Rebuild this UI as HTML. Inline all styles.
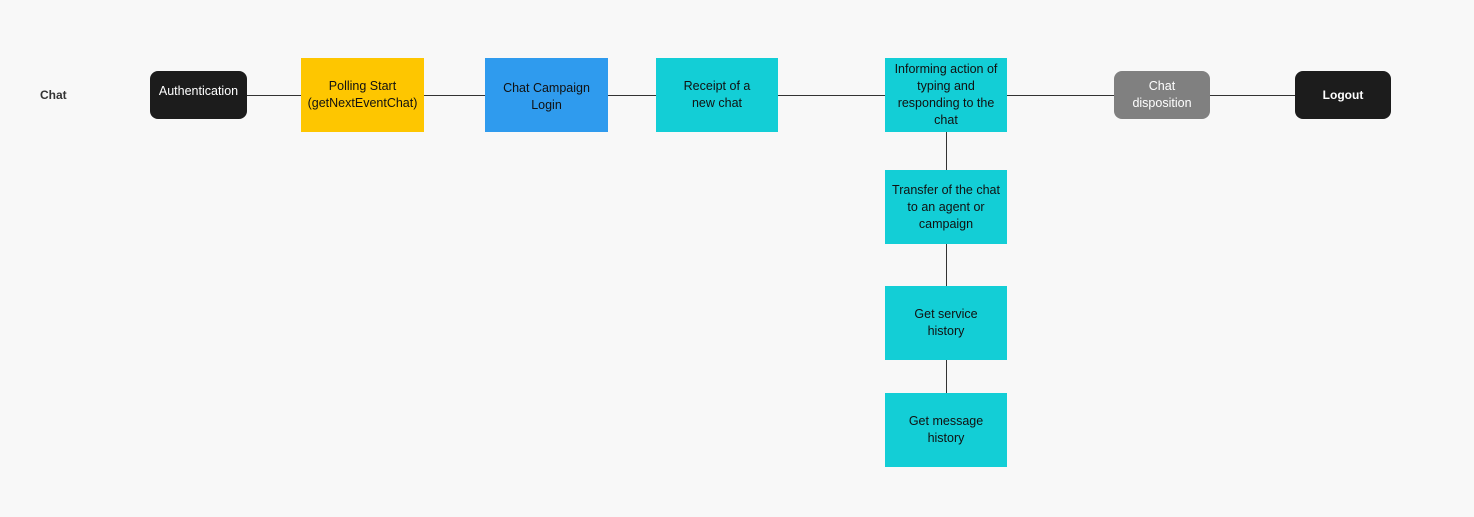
<!DOCTYPE html>
<html><head><style>
body{margin:0;width:1474px;height:517px;background:#f8f8f8;position:relative;overflow:hidden;font-family:"Liberation Sans",sans-serif;}
.n{position:absolute;display:flex;align-items:center;justify-content:center;text-align:center;font-size:12.5px;line-height:17px;box-sizing:border-box;padding:0 4px;color:#111;}
.r{border-radius:8px;color:#fff;}
.l{position:absolute;background:#333;}
</style></head><body>
<div style="position:absolute;left:40px;top:88px;font-size:12px;font-weight:bold;color:#333">Chat</div>
<div class="l" style="left:247px;top:95px;width:1048px;height:1px"></div>
<div class="l" style="left:946px;top:132px;width:1px;height:261px"></div>
<div class="n r" style="left:150px;top:71px;width:97px;height:48px;background:#1c1c1c;padding-bottom:8px">Authentication</div>
<div class="n" style="left:301px;top:58px;width:123px;height:74px;background:#fec600">Polling Start<br>(getNextEventChat)</div>
<div class="n" style="left:485px;top:58px;width:123px;height:74px;background:#2f9bee;padding-top:4px">Chat Campaign<br>Login</div>
<div class="n" style="left:656px;top:58px;width:122px;height:74px;background:#13ced6">Receipt of a<br>new chat</div>
<div class="n" style="left:885px;top:58px;width:122px;height:74px;background:#13ced6">Informing action of typing and responding to the chat</div>
<div class="n r" style="left:1114px;top:71px;width:96px;height:48px;background:#808080">Chat<br>disposition</div>
<div class="n r" style="left:1295px;top:71px;width:96px;height:48px;background:#1c1c1c;font-weight:bold;font-size:12px">Logout</div>
<div class="n" style="left:885px;top:170px;width:122px;height:74px;background:#13ced6">Transfer of the chat to an agent or campaign</div>
<div class="n" style="left:885px;top:286px;width:122px;height:74px;background:#13ced6">Get service<br>history</div>
<div class="n" style="left:885px;top:393px;width:122px;height:74px;background:#13ced6">Get message<br>history</div>
</body></html>
